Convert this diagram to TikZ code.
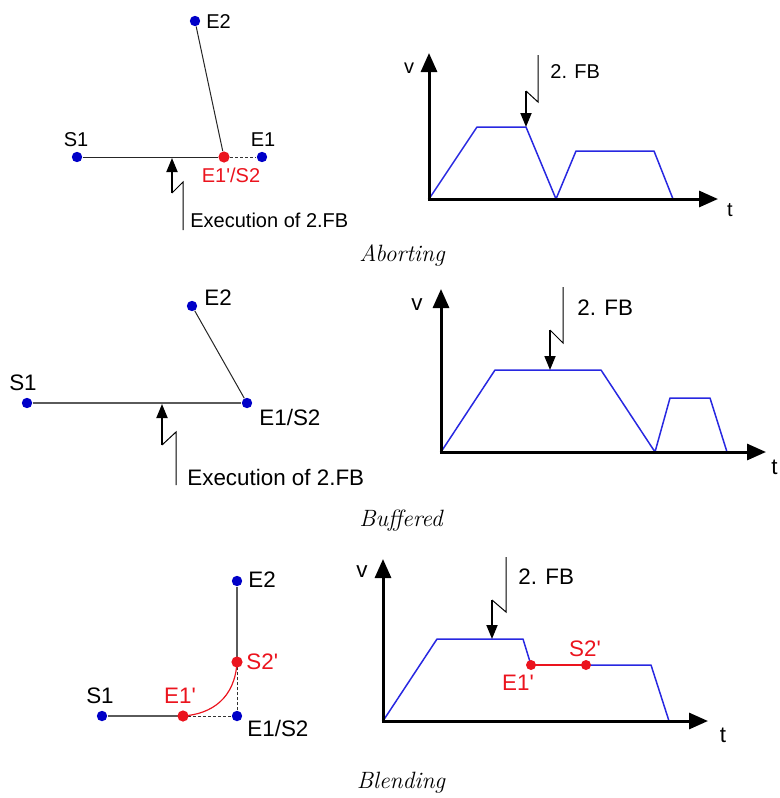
\documentclass[tikz,border=0pt]{standalone}
\usepackage{fontspec}
\newfontfamily\arialf{Liberation Sans}
\usetikzlibrary{arrows.meta}
\definecolor{dotblue}{RGB}{0,0,200}
\definecolor{profblue}{RGB}{40,40,225}
\definecolor{dotred}{RGB}{235,20,30}
\definecolor{seggray}{RGB}{90,90,90}
\begin{document}
\begin{tikzpicture}[x=0.5pt,y=-0.5pt,
  lbla/.style={font=\arialf\fontsize{10}{12}\selectfont, inner sep=0pt},
  lblb/.style={font=\arialf\fontsize{11.2}{13}\selectfont, inner sep=0pt},
  bdot/.style={circle,fill=dotblue,inner sep=0pt,minimum size=5.2pt},
  rdot/.style={circle,fill=dotred,inner sep=0pt,minimum size=5.6pt},
  seg/.style={draw=black!85,line width=0.5pt},
  gseg/.style={draw=seggray,line width=0.55pt},
  dseg/.style={draw=black!80,line width=0.5pt,dash pattern=on 1.5pt off 1pt},
  axisline/.style={draw=black,line width=1.5pt,-{Triangle[length=9.5pt,width=8pt]}},
  prof/.style={draw=profblue,line width=0.75pt,line join=round},
  fbline/.style={draw=black,line width=0.5pt},
  fbarrow/.style={draw=black,line width=0.9pt,-{Triangle[length=7pt,width=5.5pt]}},
  captxt/.style={font=\itshape\fontsize{11.8}{13}\selectfont, inner sep=0pt}
]
\useasboundingbox (0,0) rectangle (780,798);

% ================= Aborting: path =================
\node[bdot] (aE2) at (195,21) {};
\node[lbla,anchor=west] (aE2l) at (206,22) {E2};
\node[bdot] (aS1) at (77,157) {};
\node[lbla] (aS1l) at (76,140) {S1};
\node[bdot] (aE1) at (262,157) {};
\node[lbla] (aE1l) at (263,140) {E1};
\node[rdot] (aE1p) at (224,157) {};
\node[lbla,text=dotred] (aE1pl) at (231,175) {E1'/S2};
\draw[seg] (aS1) -- (aE1p);
\draw[dseg] (aE1p) -- (aE1);
\draw[seg] (aE2) -- (aE1p);
\coordinate (aX0) at (183,230);
\coordinate (aX1) at (183,182);
\coordinate (aX2) at (172,193);
\coordinate (aXt) at (172,158);
\draw[fbline] (aX0) -- (aX1) -- (aX2);
\draw[fbarrow] (aX2) -- (aXt);
\node[lbla,anchor=west] (aExec) at (190,220) {Execution of 2.FB};

% ================= Aborting: chart =================
\coordinate (aO) at (429,199);
\coordinate (aVt) at (429,53);
\coordinate (aTt) at (718,199);
\node[lbla] (av) at (409,68) {v};
\node[lbla] (at) at (730,210) {t};
\coordinate (aP1) at (477,127);
\coordinate (aP2) at (526,127);
\coordinate (aP3) at (556,199);
\coordinate (aP4) at (576,151);
\coordinate (aP5) at (654,151);
\coordinate (aP6) at (673,199);
\draw[prof] (aO) -- (aP1) -- (aP2) -- (aP3) -- (aP4) -- (aP5) -- (aP6);
\draw[axisline] ([yshift=-0.75pt]aO) -- (aVt);
\draw[axisline] ([xshift=-0.75pt]aO) -- (aTt);
\coordinate (aF0) at (538,55);
\coordinate (aF1) at (538,102);
\coordinate (aF2) at (526,91);
\draw[fbline] (aF0) -- (aF1) -- (aF2);
\draw[fbarrow] (aF2) -- (aP2);
\node[lbla,anchor=west] (aFB) at (550,72) {2. FB};
\node[captxt] (capA) at (402,255) {Aborting};

% ================= Buffered: path =================
\node[bdot] (bE2) at (192,306) {};
\node[lblb,anchor=west] (bE2l) at (204,298) {E2};
\node[bdot] (bS1) at (27,403) {};
\node[lblb] (bS1l) at (23,383) {S1};
\node[bdot] (bE1) at (247,403) {};
\node[lblb,anchor=west] (bE1l) at (259,417) {E1/S2};
\draw[gseg] (bS1) -- (bE1);
\draw[seg] (bE2) -- (bE1);
\coordinate (bX0) at (176,485);
\coordinate (bX1) at (176,432);
\coordinate (bX2) at (162,445);
\coordinate (bXt) at (162,404);
\draw[fbline] (bX0) -- (bX1) -- (bX2);
\draw[fbarrow] (bX2) -- (bXt);
\node[lblb,anchor=west] (bExec) at (187,477) {Execution of 2.FB};

% ================= Buffered: chart =================
\coordinate (bO) at (441,452);
\coordinate (bVt) at (441,289);
\coordinate (bTt) at (766,452);
\node[lblb] (bv) at (417,305) {v};
\node[lblb,anchor=west] (bt) at (771,467) {t};
\coordinate (bP1) at (495,370);
\coordinate (bP2) at (601,370);
\coordinate (bP3) at (655,452);
\coordinate (bP4) at (670,398);
\coordinate (bP5) at (710,398);
\coordinate (bP6) at (727,452);
\coordinate (bPa) at (550,370);
\draw[prof] (bO) -- (bP1) -- (bP2) -- (bP3) -- (bP4) -- (bP5) -- (bP6);
\draw[axisline] ([yshift=-0.75pt]bO) -- (bVt);
\draw[axisline] ([xshift=-0.75pt]bO) -- (bTt);
\coordinate (bF0) at (563,287);
\coordinate (bF1) at (563,343);
\coordinate (bF2) at (550,330);
\draw[fbline] (bF0) -- (bF1) -- (bF2);
\draw[fbarrow] (bF2) -- (bPa);
\node[lblb,anchor=west] (bFB) at (577,308) {2. FB};
\node[captxt] (capB) at (401,521) {Buffered};

% ================= Blending: path =================
\node[bdot] (cE2) at (237,581) {};
\node[lblb,anchor=west] (cE2l) at (248,580) {E2};
\node[bdot] (cS1) at (102,716) {};
\node[lblb] (cS1l) at (100,696) {S1};
\node[bdot] (cE1) at (237,716) {};
\node[lblb,anchor=west] (cE1l) at (247,728) {E1/S2};
\node[lblb,anchor=west,text=dotred] (cS2pl) at (246,662) {S2'};
\node[lblb,text=dotred] (cE1pl) at (180,696) {E1'};
\coordinate (cS2c) at (237,662);
\coordinate (cE1c) at (183,716);
\draw[gseg] (cS1) -- (cE1c);
\draw[dseg] (cE1c) -- (cE1);
\draw[dseg] (cE1) -- (cS2c);
\draw[gseg] (cS2c) -- (cE2);
\draw[draw=dotred,line width=0.6pt] (cE1c) .. controls (212,714) and (235,698) .. (cS2c);
\node[rdot] (cS2p) at (cS2c) {};
\node[rdot] (cE1p) at (cE1c) {};

% ================= Blending: chart =================
\coordinate (cO) at (383,721);
\coordinate (cVt) at (383,559);
\coordinate (cTt) at (708,721);
\node[lblb] (cv) at (362,572) {v};
\node[lblb] (ct) at (723,735) {t};
\coordinate (cP1) at (437,639);
\coordinate (cP2) at (523,639);
\coordinate (cPa) at (492,639);
\coordinate (cR1c) at (531,665);
\coordinate (cR2c) at (586,665);
\coordinate (cP5) at (651,665);
\coordinate (cP6) at (669,721);
\draw[prof] (cO) -- (cP1) -- (cP2) -- (cR1c);
\draw[draw=dotred,line width=0.8pt] (cR1c) -- (cR2c);
\draw[prof] (cR2c) -- (cP5) -- (cP6);
\node[rdot,minimum size=5pt] (cR1) at (cR1c) {};
\node[rdot,minimum size=5pt] (cR2) at (cR2c) {};
\node[lblb,text=dotred] (cR1l) at (518,683) {E1'};
\node[lblb,text=dotred] (cR2l) at (585,649) {S2'};
\draw[axisline] ([yshift=-0.75pt]cO) -- (cVt);
\draw[axisline] ([xshift=-0.75pt]cO) -- (cTt);
\coordinate (cF0) at (506,557);
\coordinate (cF1) at (506,612);
\coordinate (cF2) at (492,600);
\draw[fbline] (cF0) -- (cF1) -- (cF2);
\draw[fbarrow] (cF2) -- (cPa);
\node[lblb,anchor=west] (cFB) at (518,577) {2. FB};
\node[captxt] (capC) at (401,783) {Blending};
\end{tikzpicture}
\end{document}
